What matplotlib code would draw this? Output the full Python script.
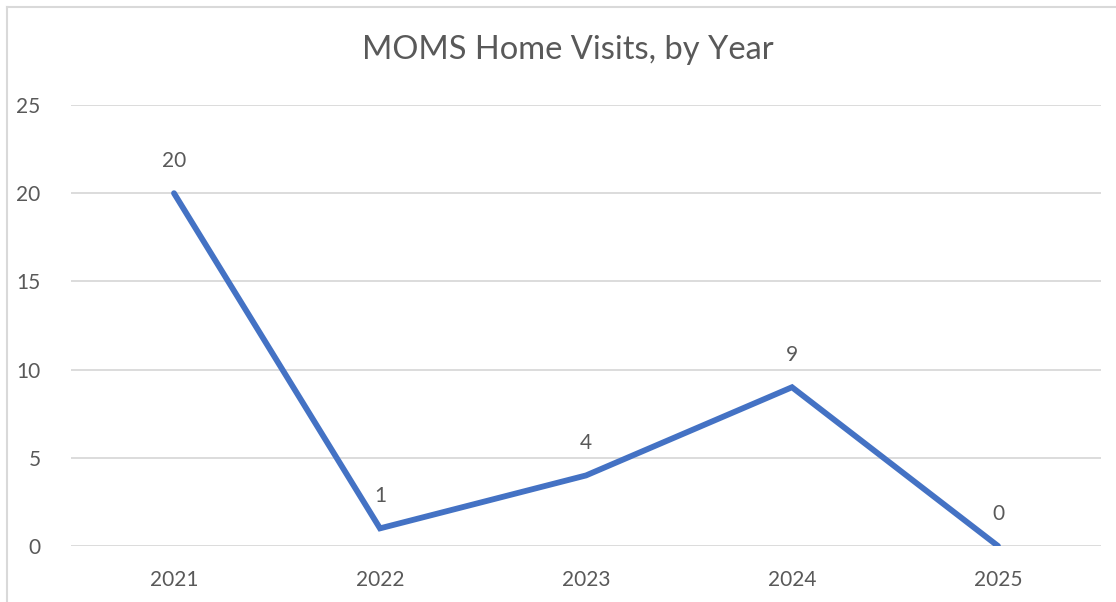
import matplotlib.pyplot as plt
from matplotlib.lines import Line2D

# Dados
years = ['2021', '2022', '2023', '2024', '2025']
visits = [20, 1, 4, 9, 0]
y_ticks = [0, 5, 10, 15, 20, 25]

plt.rcParams['font.family'] = ['Lato', 'DejaVu Sans']
cinza = '#595959'

fig = plt.figure(figsize=(11.16, 6.02), dpi=100)
ax = fig.add_axes([71 / 1116, 1 - 546 / 602, 1030 / 1116, 441 / 602])

x = range(len(years))
ax.plot(x, visits, color='#4472C4', linewidth=4.2, solid_capstyle='round',
        solid_joinstyle='miter', zorder=3)

# Rótulos dos pontos
for xi, v in zip(x, visits):
    ax.annotate(str(v), (xi, v), xytext=(0, 23), textcoords='offset points',
                ha='center', va='center', fontsize=15, color=cinza)

ax.set_xlim(-0.5, len(years) - 0.5)
ax.set_ylim(0, 25)
ax.set_xticks(list(x))
ax.set_xticklabels(years)
ax.set_yticks(y_ticks)
ax.tick_params(axis='both', length=0, labelsize=15, labelcolor=cinza)
ax.tick_params(axis='y', pad=22)
ax.tick_params(axis='x', pad=17)
ax.grid(axis='y', color='#d9d9d9', linewidth=1.3)
ax.set_axisbelow(True)
for s in ax.spines.values():
    s.set_visible(False)

fig.text(568 / 1116, 1 - 50 / 602, 'MOMS Home Visits, by Year', ha='center', va='center',
         fontsize=23.5, color=cinza)

# Borda do gráfico
fig.add_artist(Line2D([7 / 1116, 1.0], [1 - 7 / 602] * 2, color='#d9d9d9', linewidth=1.5))
fig.add_artist(Line2D([7 / 1116] * 2, [0, 1 - 7 / 602], color='#d9d9d9', linewidth=1.5))

fig.savefig('out.png', dpi=100)
